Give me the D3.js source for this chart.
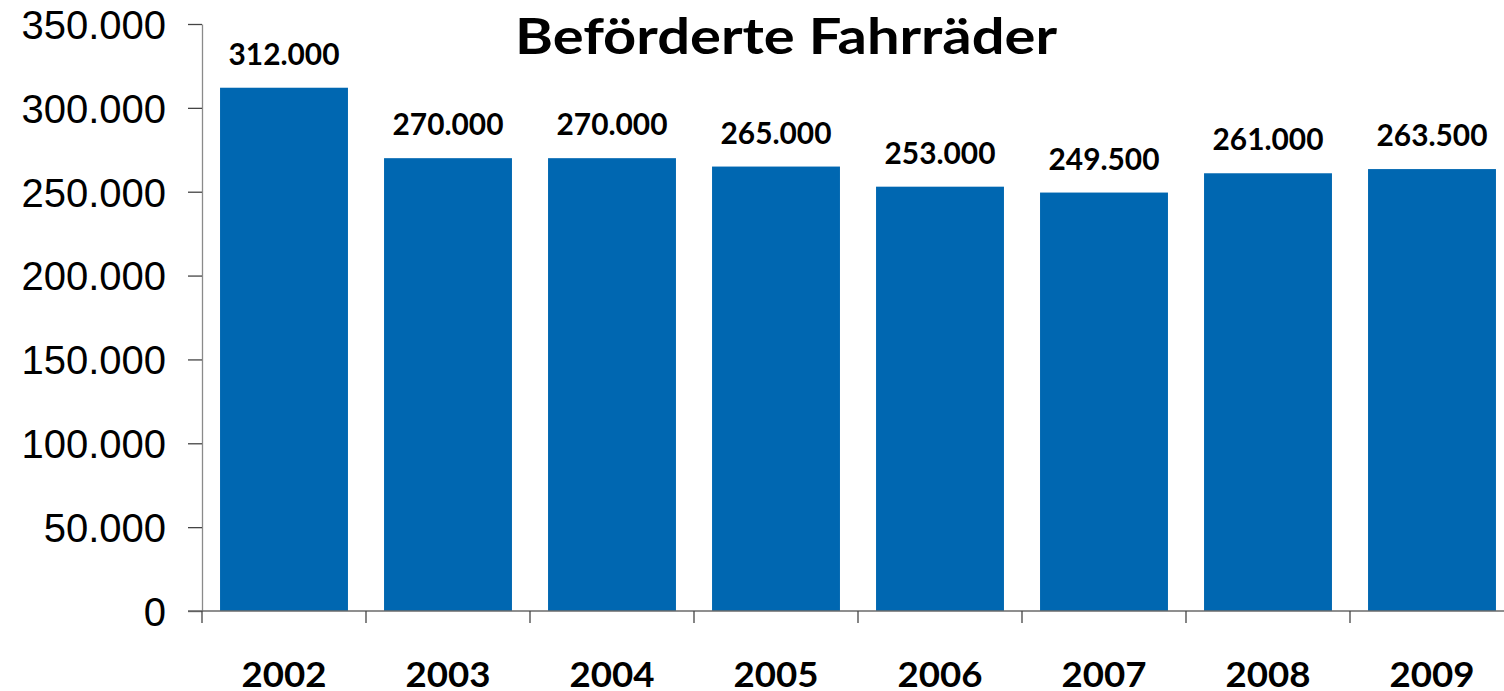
<!DOCTYPE html>
<html><head><meta charset="utf-8">
<script src="https://cdn.jsdelivr.net/npm/d3@7"></script>
<style>html,body{margin:0;padding:0;background:#fff;overflow:hidden}</style>
</head><body>
<svg id="c" width="1504" height="691"></svg>
<script>
const years = ["2002","2003","2004","2005","2006","2007","2008","2009"];
const values = [312000,270000,270000,265000,253000,249500,261000,263500];
const yTicks = [0,50000,100000,150000,200000,250000,300000,350000];
const title = "Beförderte Fahrräder";

const svg = d3.select("#c");
const loc = d3.formatLocale({decimal:",", thousands:".", grouping:[3], currency:["","€"]});
const fmt = loc.format(",d");

const x = d3.scaleBand().domain(years).range([202,1514]).paddingInner(0.22).paddingOuter(0.11);
const y = d3.scaleLinear().domain([0,350000]).range([611,24]);

// bars
svg.append("g").selectAll("rect").data(values).join("rect")
  .attr("x",(d,i)=>x(years[i])).attr("width",x.bandwidth())
  .attr("y",d=>y(d)).attr("height",d=>y(0)-y(d))
  .attr("fill","#0067b1");

// y axis
const ya = svg.append("g").attr("transform","translate(202,0)")
  .call(d3.axisLeft(y).tickValues(yTicks).tickFormat(fmt).tickSize(14).tickSizeOuter(0).tickPadding(22));
ya.select(".domain").attr("stroke","#8a8a8a").attr("stroke-width",1.3);
ya.selectAll(".tick line").attr("stroke","#444").attr("stroke-width",1.3);
ya.selectAll(".tick text").attr("font-family","'Liberation Sans',Arial,sans-serif").attr("font-size",40).attr("fill","#000").attr("dy","0.36em");

// x axis line
svg.append("line").attr("x1",188).attr("x2",1504).attr("y1",y(0)).attr("y2",y(0)).attr("stroke","#6a6a6a").attr("stroke-width",1.5);
// x ticks at band boundaries
const bounds = d3.range(years.length+1).map(i=>x.range()[0]+i*x.step());
svg.append("g").selectAll("line").data(bounds).join("line")
  .attr("x1",d=>d).attr("x2",d=>d).attr("y1",y(0)).attr("y2",y(0)+12)
  .attr("stroke","#444").attr("stroke-width",1.3);

const boldFont = "Lato, 'Open Sans', sans-serif";

// year labels
svg.append("g").selectAll("text").data(years).join("text")
  .attr("x",d=>x(d)+x.bandwidth()/2).attr("y",687)
  .attr("text-anchor","middle").attr("font-family",boldFont).attr("font-weight","bold")
  .attr("font-size",35).attr("fill","#000")
  .attr("textLength",85).attr("lengthAdjust","spacingAndGlyphs").text(d=>d);

// value labels
svg.append("g").selectAll("text").data(values).join("text")
  .attr("x",(d,i)=>x(years[i])+x.bandwidth()/2).attr("y",d=>y(d)-23)
  .attr("text-anchor","middle").attr("font-family",boldFont).attr("font-weight","bold")
  .attr("font-size",31).attr("fill","#000")
  .attr("textLength",111).attr("lengthAdjust","spacingAndGlyphs").text(d=>fmt(d));

// title
svg.append("text").attr("x",786).attr("y",54).attr("text-anchor","middle")
  .attr("font-family",boldFont).attr("font-weight","bold").attr("font-size",50).attr("fill","#000")
  .attr("textLength",542).attr("lengthAdjust","spacingAndGlyphs").text(title);
</script>
</body></html>
